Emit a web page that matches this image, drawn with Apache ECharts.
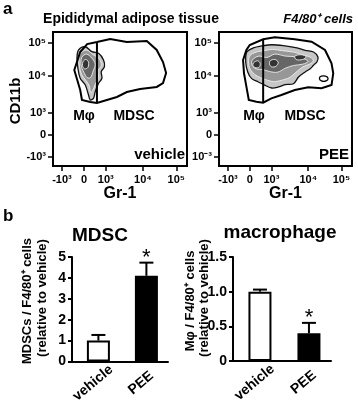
<!DOCTYPE html>
<html>
<head>
<meta charset="utf-8">
<script src="https://cdn.jsdelivr.net/npm/echarts@6/dist/echarts.min.js"></script>
<style>
html, body { margin: 0; padding: 0; background: #fff; }
#main { width: 358px; height: 406px; }
</style>
</head>
<body>
<div id="main"></div>
<script>
// flow plots: axis positions of the decade ticks (display units 0-100) and their labels
var flowTickPos = [6.7, 23.1, 39.4, 67.1, 92];
var flowXLabels = ['-10³', '0', '10³', '10⁴', '10⁵'];
var vehYLabels = ['-10³', '0', '10³', '10⁴', '10⁵'];
var peeYLabels = ['10⁻³', '0', '10³', '10⁴', '10⁵'];

// vehicle: gate + contour levels (outer -> inner)
var vehGate = [[15.9, 71.6], [20.3, 85.1], [25.5, 91.0], [32.8, 92.5], [42.7, 94.8], [55.1, 92.5], [70.0, 93.3],
  [77.4, 86.6], [82.1, 77.6], [84.4, 69.4], [82.1, 61.9], [77.4, 59.0], [65.0, 57.5], [55.1, 55.2], [47.7, 51.5],
  [40.2, 49.3], [32.8, 47.0], [27.8, 47.8], [21.6, 49.3], [20.3, 56.7], [18.1, 64.2]];
var vehSplit = [[32.8, 47.0], [32.8, 92.5]];
var vehLevel1 = [[19.1, 86.6], [24.1, 89.0], [29.0, 85.3], [34.0, 84.1], [37.7, 79.1], [38.4, 74.1], [36.0, 70.4],
  [36.5, 65.5], [34.0, 61.7], [31.5, 55.4], [30.2, 50.5], [27.8, 49.3], [26.5, 53.0], [24.1, 60.4], [20.3, 65.5],
  [18.6, 72.9], [17.9, 80.4]];
var vehLevel2 = [[20.5, 84], [25, 86.5], [30, 83], [34.5, 80], [36, 75], [33.5, 71], [34, 66], [31.5, 61], [29.5, 56],
  [28, 55], [27, 60], [24.5, 64], [21.5, 68], [19.8, 74], [19.5, 80]];
var vehLevel3 = [[21.5, 81], [25, 83.5], [29, 80.5], [31.5, 76], [30, 71], [28, 66], [25.5, 66], [23, 70], [21, 75]];
var vehLevel4 = [[22.5, 78], [24.5, 79.5], [26.5, 77.5], [26, 73.5], [23.5, 72.5], [22, 75]];

// PEE: gate + contour levels
var peeGate = [[18.1, 79.1], [20.6, 86.6], [23.1, 90.3], [33.2, 94.6], [42.0, 96.0], [57.0, 94.6], [69.6, 92.8],
  [79.7, 86.6], [84.6, 76.6], [85.9, 69.2], [84.6, 60.4], [77.1, 58.0], [67.1, 58.7], [57.0, 56.7], [46.9, 53.0],
  [39.4, 50.5], [33.2, 47.2], [28.1, 48.0], [22.4, 49.3], [20.6, 59.2], [18.8, 69.2]];
var peeSplit = [[33.2, 47.2], [33.2, 94.6]];
var peeLevel1 = [[20.9, 85.1], [25.8, 88.1], [32.2, 89.6], [39.7, 90.5], [49.7, 89.6], [58.6, 88.1], [64.8, 86.3],
  [71.1, 85.1], [74.4, 81.3], [73.6, 77.6], [71.1, 75.2], [68.6, 72.6], [64.8, 70.2], [59.8, 66.4], [56.0, 61.4],
  [49.7, 60.7], [44.7, 59.0], [39.7, 58.2], [34.7, 60.2], [29.6, 62.7], [24.6, 65.2], [21.6, 70.2], [20.1, 77.6]];
var peeLevel2 = [[23, 82], [28, 85], [34, 86], [40, 87], [48, 86], [56, 85], [63, 83], [69, 81], [71, 78.5], [68, 76],
  [63, 74], [58, 70], [53, 66], [47, 64], [41, 63], [35, 64.5], [29, 67], [25, 70], [22.5, 75]];
var peeLevel3 = [[25, 79], [30, 82], [36, 81], [42, 83.5], [50, 82], [58, 81.5], [64, 80], [67, 78], [63, 76], [56, 75],
  [50, 73], [44, 70], [38, 70.5], [33, 72], [28, 72.5], [25, 75]];
var peeCoreA = [[26, 77], [29, 78.5], [31, 76.5], [30, 73.5], [27, 73.5], [25.5, 75]];
var peeCoreB = [[38.5, 78.5], [42, 79.5], [44.5, 77.5], [43, 74.5], [39.5, 74], [38, 76]];
var peeCoreC = [[57, 82], [62, 83], [65.5, 81.5], [63, 79.5], [58, 79.5]];
var peeIsland = [[75.5, 65.5], [77, 67], [80, 67], [82, 65.5], [80.5, 63.5], [77, 63.5]];

// bar charts
var groups = ['vehicle', 'PEE'];
var mdscMean = [1.0, 4.1];
var mdscErr = [0.27, 0.63];
var mdscSig = [0, 1];
var macMean = [1.0, 0.4];
var macErr = [0.03, 0.15];
var macSig = [0, 1];

var FONT = 'Liberation Sans, Arial, sans-serif';
var levelFill = ['#c6c6c6', '#979797', '#666666', '#333333'];

function shape(pts, lvl) {
	if (lvl < 0) return {pts: pts, fill: null, stroke: '#000', lw: 2, smooth: 0};
	return {pts: pts, fill: levelFill[lvl], stroke: lvl == 0 ? '#111' : '#eee', lw: lvl == 0 ? 1.3 : 0.9, smooth: 0.35};
}

var vehShapes = [shape(vehLevel1, 0), shape(vehLevel2, 1), shape(vehLevel3, 2), shape(vehLevel4, 3),
	shape(vehGate, -1), {pts: vehSplit, line: true}];
var peeShapes = [shape(peeLevel1, 0), shape(peeLevel2, 1), shape(peeLevel3, 2), shape(peeCoreA, 3), shape(peeCoreB, 3),
	shape(peeCoreC, 3), {pts: peeIsland, fill: '#fff', stroke: '#000', lw: 1.3, smooth: 0.5},
	shape(peeGate, -1), {pts: peeSplit, line: true}];

function contourSeries(idx, shapes) {
	return {
		type: 'custom', xAxisIndex: idx, yAxisIndex: idx, silent: true,
		data: shapes.map(function (s) { return s.pts[0]; }),
		renderItem: function (params, api) {
			var s = shapes[params.dataIndex];
			var pts = s.pts.map(function (p) { return api.coord(p); });
			if (s.line) {
				return {type: 'polyline', shape: {points: pts}, style: {stroke: '#000', lineWidth: 2, fill: null}};
			}
			return {type: 'polygon', shape: {points: pts, smooth: s.smooth},
				style: {fill: s.fill, stroke: s.stroke, lineWidth: s.lw}};
		}
	};
}

function flowXAxis(idx) {
	return {
		type: 'value', gridIndex: idx, min: 0, max: 100,
		name: 'Gr-1', nameLocation: 'middle', nameGap: 17,
		nameTextStyle: {fontFamily: FONT, fontWeight: 'bold', fontSize: 16, color: '#000'},
		axisLine: {show: true, lineStyle: {color: '#000', width: 2}},
		axisTick: {show: true, customValues: flowTickPos, length: 5, lineStyle: {color: '#000', width: 1.5}},
		axisLabel: {customValues: flowTickPos, margin: 8, fontFamily: FONT, fontWeight: 'bold', fontSize: 11, color: '#000',
			formatter: function (v) { return flowXLabels[flowTickPos.indexOf(v)]; }},
		splitLine: {show: false}
	};
}

function flowYAxis(idx, labels) {
	return {
		type: 'value', gridIndex: idx, min: 0, max: 100,
		axisLine: {show: true, lineStyle: {color: '#000', width: 2}},
		axisTick: {show: true, customValues: flowTickPos, length: 5, lineStyle: {color: '#000', width: 1.5}},
		axisLabel: {customValues: flowTickPos, margin: 7, fontFamily: FONT, fontWeight: 'bold', fontSize: 11, color: '#000',
			formatter: function (v) { return labels[flowTickPos.indexOf(v)]; }},
		splitLine: {show: false}
	};
}

function barXAxis(idx) {
	return {
		type: 'value', gridIndex: idx, min: 0.45, max: 2.45,
		axisLine: {show: true, lineStyle: {color: '#000', width: 2}},
		axisTick: {show: false},
		axisLabel: {customValues: [1, 2], rotate: 40, margin: 17, align: 'center', verticalAlign: 'middle',
			padding: [0, 14, 0, 0], fontFamily: FONT, fontWeight: 'bold', fontSize: 14, color: '#000',
			formatter: function (v) { return groups[v - 1]; }},
		splitLine: {show: false}
	};
}

function barYAxis(idx, max, step, fmt) {
	return {
		type: 'value', gridIndex: idx, min: 0, max: max, interval: step,
		axisLine: {show: true, lineStyle: {color: '#000', width: 2}},
		axisTick: {show: true, length: 4, lineStyle: {color: '#000', width: 2}},
		axisLabel: {margin: 6, fontFamily: FONT, fontWeight: 'bold', fontSize: 14, color: '#000', formatter: fmt},
		splitLine: {show: false}
	};
}

function barSeries(idx, means) {
	return {
		type: 'bar', xAxisIndex: idx, yAxisIndex: idx, barWidth: 23, silent: true,
		data: means.map(function (m, i) {
			return {value: [i + 1, m], itemStyle: {color: i == 0 ? '#fff' : '#000', borderColor: '#000', borderWidth: 2}};
		})
	};
}

function errSeries(idx, means, errs, sig) {
	return {
		type: 'custom', xAxisIndex: idx, yAxisIndex: idx, silent: true, z: 5,
		data: means.map(function (m, i) { return [i + 1, m, errs[i], sig[i]]; }),
		renderItem: function (params, api) {
			var x = api.value(0), m = api.value(1), e = api.value(2);
			var b = api.coord([x, m]), t = api.coord([x, m + e]);
			var kids = [
				{type: 'line', shape: {x1: b[0], y1: b[1], x2: t[0], y2: t[1]}, style: {stroke: '#000', lineWidth: 2}},
				{type: 'line', shape: {x1: t[0] - 7, y1: t[1], x2: t[0] + 7, y2: t[1]}, style: {stroke: '#000', lineWidth: 2}}
			];
			if (api.value(3)) {
				kids.push({type: 'text', x: t[0], y: t[1] + 6,
					style: {text: '*', fill: '#000', font: '22px ' + FONT, align: 'center', verticalAlign: 'bottom'}});
			}
			return {type: 'group', children: kids};
		}
	};
}

function txt(text, x, y, size, opts) {
	opts = opts || {};
	return {
		type: 'text', x: x, y: y, rotation: opts.rot || 0, silent: true,
		style: {text: text, fill: '#000', align: opts.align || 'center', verticalAlign: opts.va || 'middle',
			font: (opts.italic ? 'italic ' : '') + 'bold ' + size + 'px ' + FONT}
	};
}

var myChart = echarts.init(document.getElementById('main'), null, {renderer: 'canvas'});

var option = {
	backgroundColor: '#fff',
	animation: false,
	grid: [
		{left: 53, top: 32, width: 134, height: 134, show: true, borderColor: '#000', borderWidth: 2},
		{left: 219, top: 32, width: 133, height: 134, show: true, borderColor: '#000', borderWidth: 2},
		{left: 72, top: 257, width: 96, height: 104.5},
		{left: 233, top: 257, width: 98, height: 104}
	],
	xAxis: [flowXAxis(0), flowXAxis(1), barXAxis(2), barXAxis(3)],
	yAxis: [
		flowYAxis(0, vehYLabels),
		flowYAxis(1, peeYLabels),
		barYAxis(2, 5, 1, function (v) { return String(v); }),
		barYAxis(3, 1.5, 0.5, function (v) { return v == 0 ? '0' : v.toFixed(1); })
	],
	series: [
		contourSeries(0, vehShapes),
		contourSeries(1, peeShapes),
		barSeries(2, mdscMean),
		errSeries(2, mdscMean, mdscErr, mdscSig),
		barSeries(3, macMean),
		errSeries(3, macMean, macErr, macSig)
	],
	graphic: [
		txt('a', 3, 9, 17, {align: 'left'}),
		txt('Epididymal adipose tissue', 131, 19, 14),
		txt('F4/80⁺ cells', 353, 19, 13, {align: 'right', italic: true}),
		txt('CD11b', 16, 101, 15, {rot: Math.PI / 2}),
		txt('Mφ', 84, 116, 14),
		txt('MDSC', 134, 116, 14),
		txt('Mφ', 254, 116, 14),
		txt('MDSC', 305, 116, 14),
		txt('vehicle', 185, 155, 15, {align: 'right'}),
		txt('PEE', 349, 155, 15, {align: 'right'}),
		txt('b', 3, 216, 17, {align: 'left'}),
		txt('MDSC', 100, 236, 19),
		txt('macrophage', 280, 233, 19),
		txt('MDSCs / F4/80⁺ cells', 27, 301, 13, {rot: Math.PI / 2}),
		txt('(relative to vehicle)', 42, 298, 13, {rot: Math.PI / 2}),
		txt('Mφ / F4/80⁺ cells', 190, 301, 13, {rot: Math.PI / 2}),
		txt('(relative to vehicle)', 204, 298, 13, {rot: Math.PI / 2})
	]
};

myChart.setOption(option);
</script>
</body>
</html>
